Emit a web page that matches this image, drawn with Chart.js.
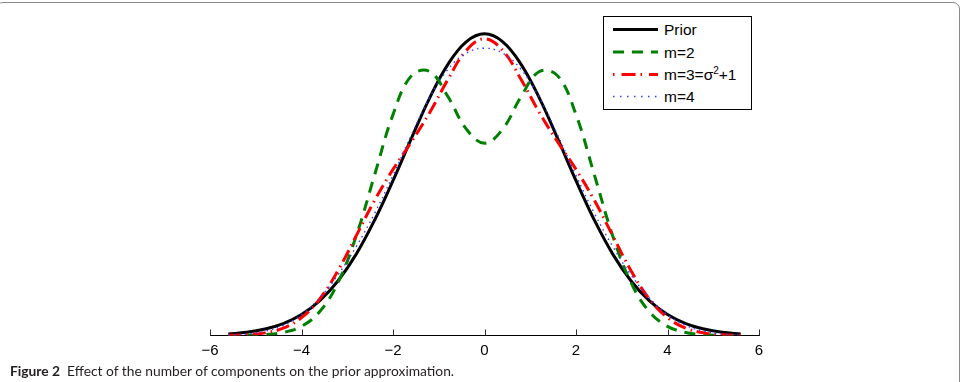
<!DOCTYPE html>
<html>
<head>
<meta charset="utf-8">
<script src="https://cdn.jsdelivr.net/npm/chart.js@4.4.1/dist/chart.umd.min.js"></script>
<style>
  html, body { margin: 0; padding: 0; background: #fff; }
  #wrap { position: relative; width: 972px; height: 382px; overflow: hidden; background: #fff; }
  #frame { position: absolute; left: -4px; top: 2px; width: 964px; height: 420px; border: 1px solid #8a8a8a; border-radius: 7px; box-sizing: border-box; }
  #c { position: absolute; left: 0; top: 0; }
  #legend { position: absolute; left: 603px; top: 16px; width: 149px; height: 94px; border: 1px solid #000; box-sizing: border-box; background: #fff; }
  #legsvg { position: absolute; left: 603px; top: 16px; }
  .lt { position: absolute; font-family: "Liberation Sans", Arial, sans-serif; font-size: 15.5px; line-height: 18px; color: #000; white-space: nowrap; }
  .lt sup { font-size: 10px; line-height: 0; vertical-align: 6px; }
  #caption { position: absolute; left: 10px; top: 363px; font-family: Lato, "Open Sans", sans-serif; font-size: 13.8px; line-height: 16px; color: #231f20; white-space: nowrap; }
  #caption b { font-weight: 700; margin-right: 7px; }
</style>
</head>
<body>
<div id="wrap">
  <div id="frame"></div>
  <canvas id="c" width="972" height="382"></canvas>
  <div id="legend"></div>
  <svg id="legsvg" width="149" height="94">
    <line x1="10" y1="13.5" x2="55" y2="13.5" stroke="#000" stroke-width="3"/>
    <line x1="10" y1="36" x2="55" y2="36" stroke="#008000" stroke-width="3" stroke-dasharray="11 8"/>
    <line x1="10" y1="58.5" x2="55" y2="58.5" stroke="#ff0000" stroke-width="3" stroke-dasharray="1.5 7 14 5"/>
    <line x1="10" y1="80.5" x2="55" y2="80.5" stroke="#3a3aff" stroke-width="1.5" stroke-dasharray="1.5 5.5"/>
  </svg>
  <div class="lt" style="left:664px; top:21px;">Prior</div>
  <div class="lt" style="left:664px; top:43.5px;">m=2</div>
  <div class="lt" style="left:664px; top:66px;">m=3=σ<sup>2</sup>+1</div>
  <div class="lt" style="left:664px; top:88px;">m=4</div>
  <div id="caption"><b>Figure 2</b>Effect of the number of components on the prior approximation.</div>
</div>
<script>
// x positions of the sampled points
const xValues = [-5.6,-5.2,-4.8,-4.4,-4.0,-3.6,-3.2,-2.8,-2.4,-2.0,-1.6,-1.2,-0.8,-0.4,0,
                 0.4,0.8,1.2,1.6,2.0,2.4,2.8,3.2,3.6,4.0,4.4,4.8,5.2,5.6];
// Prior
const prior = [0.0012,0.0025,0.0050,0.0091,0.0160,0.0266,0.0418,0.0623,0.0882,0.1182,0.1503,0.1812,0.2070,0.2242,0.2303,
               0.2242,0.2070,0.1812,0.1503,0.1182,0.0882,0.0623,0.0418,0.0266,0.0160,0.0091,0.0050,0.0025,0.0012];
// m=2
const m2 = [0.00003,0.00015,0.00065,0.0023,0.0070,0.0183,0.0405,0.0764,0.1228,0.1686,0.1982,0.2015,0.1824,0.1577,0.1468,
            0.1577,0.1824,0.2015,0.1982,0.1686,0.1228,0.0764,0.0405,0.0183,0.0070,0.0023,0.00065,0.00015,0.00003];
// m=3
const m3 = [0.00015,0.0006,0.0020,0.0056,0.0136,0.0280,0.0497,0.0764,0.1033,0.1268,0.1477,0.1701,0.1954,0.2175,0.2265,
            0.2175,0.1954,0.1701,0.1477,0.1268,0.1033,0.0764,0.0497,0.0280,0.0136,0.0056,0.0020,0.0006,0.00015];
// m=4
const m4 = [0.00035,0.0011,0.0032,0.0077,0.0159,0.0288,0.0464,0.0681,0.0934,0.1222,0.1529,0.1815,0.2031,0.2155,0.2193,
            0.2155,0.2031,0.1815,0.1529,0.1222,0.0934,0.0681,0.0464,0.0288,0.0159,0.0077,0.0032,0.0011,0.00035];
const xTickValues = [-6,-4,-2,0,2,4,6];

const pts = arr => xValues.map((x, i) => ({ x: x, y: arr[i] }));

const upTicks = {
  id: 'upTicks',
  afterDraw(chart) {
    const xs = chart.scales.x, ctx = chart.ctx, yb = chart.chartArea.bottom;
    ctx.save();
    ctx.strokeStyle = '#333';
    ctx.lineWidth = 1;
    xTickValues.forEach(v => {
      const px = Math.round(xs.getPixelForValue(v)) + 0.5;
      ctx.beginPath();
      ctx.moveTo(px, yb);
      ctx.lineTo(px, yb - 6);
      ctx.stroke();
    });
    ctx.restore();
  }
};

new Chart(document.getElementById('c'), {
  type: 'line',
  data: {
    datasets: [
      { label: 'Prior', data: pts(prior), borderColor: '#000', borderWidth: 3, order: 4 },
      { label: 'm=2', data: pts(m2), borderColor: '#008000', borderWidth: 3, borderDash: [11, 8], order: 3 },
      { label: 'm=3=σ²+1', data: pts(m3), borderColor: '#ff0000', borderWidth: 3, borderDash: [13, 5, 1.5, 5], order: 2 },
      { label: 'm=4', data: pts(m4), borderColor: '#3a3aff', borderWidth: 1.4, borderDash: [1.5, 4], order: 1 }
    ]
  },
  options: {
    responsive: false,
    animation: false,
    events: [],
    elements: { point: { radius: 0 }, line: { tension: 0.4, fill: false, borderCapStyle: 'butt' } },
    layout: { padding: { left: 210, right: 213, top: 8, bottom: 16.5 } },
    plugins: { legend: { display: false }, tooltip: { enabled: false } },
    scales: {
      x: {
        type: 'linear', min: -6, max: 6,
        grid: { display: false, drawTicks: false },
        border: { display: true, color: '#000', width: 1 },
        ticks: {
          stepSize: 2, padding: 6, color: '#000',
          font: { family: '"Liberation Sans", Arial, sans-serif', size: 15 },
          callback: v => String(v).replace('-', '\u2212')
        }
      },
      y: { display: false, min: 0, max: 0.25 }
    }
  },
  plugins: [upTicks]
});
</script>
</body>
</html>
